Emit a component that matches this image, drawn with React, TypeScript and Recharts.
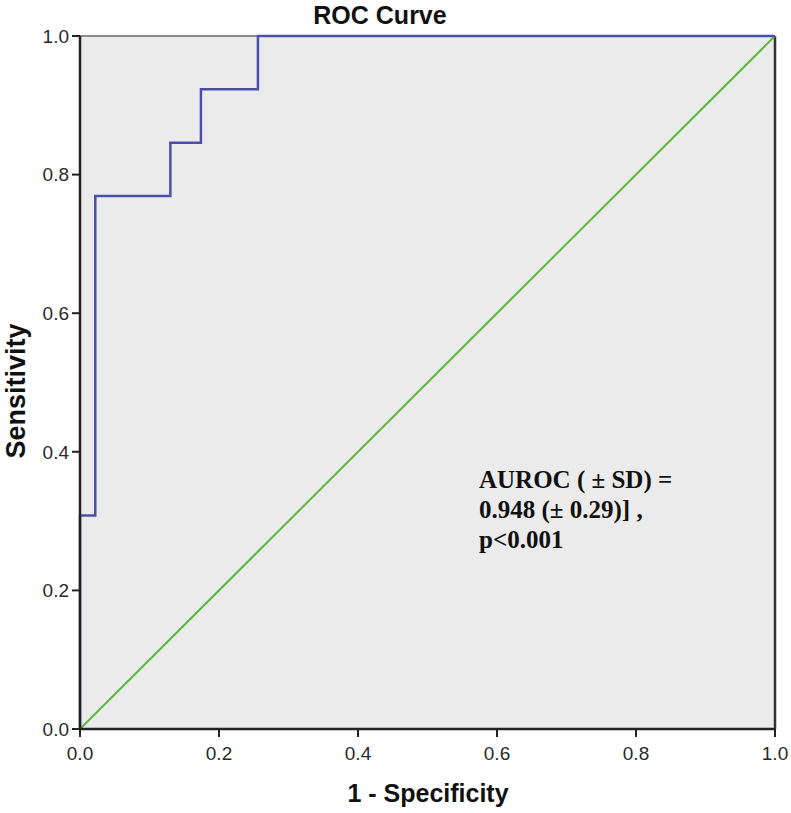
import React from 'react';
import {
  LineChart, Line, XAxis, YAxis, CartesianGrid, ReferenceLine, Customized,
} from 'recharts';

// ROC steps (1 - specificity, sensitivity)
const rocFpr = [0, 0, 0.022, 0.022, 0.13, 0.13, 0.174, 0.174, 0.256, 0.256, 1];
const rocTpr = [0, 0.308, 0.308, 0.769, 0.769, 0.846, 0.846, 0.923, 0.923, 1, 1];

// chance diagonal
const refFpr = [0, 1];
const refTpr = [0, 1];

const axisTicks = [0, 0.2, 0.4, 0.6, 0.8, 1];

const annotationLines = ['AUROC ( \u00b1 SD) =', '0.948 (\u00b1 0.29)] ,', 'p<0.001'];

const rocData = rocFpr.map((x, i) => ({ fpr: x, tpr: rocTpr[i] }));
const refData = refFpr.map((x, i) => ({ fpr: x, tpr: refTpr[i] }));

const SANS = '"Liberation Sans", Arial, sans-serif';
const SERIF = '"Liberation Serif", "Times New Roman", serif';
const AXIS_COLOR = '#222';
const TICK_STYLE = { fill: '#2a2a2a', fontSize: 19, fontFamily: SANS };

function Overlay() {
  return (
    <g>
      <text x={380} y={24} textAnchor="middle" fontFamily={SANS} fontSize={25} fontWeight={700} fill="#111">
        ROC Curve
      </text>
      <text x={428} y={802} textAnchor="middle" fontFamily={SANS} fontSize={25} fontWeight={700} fill="#111">
        1 - Specificity
      </text>
      <text
        x={25}
        y={391}
        textAnchor="middle"
        transform="rotate(-90, 25, 391)"
        fontFamily={SANS}
        fontSize={27}
        fontWeight={700}
        fill="#111"
      >
        Sensitivity
      </text>
      {annotationLines.map((t, i) => (
        <text key={t} x={479} y={488 + i * 30} fontFamily={SERIF} fontSize={25} fontWeight={700} fill="#111">
          {t}
        </text>
      ))}
    </g>
  );
}

export default function App() {
  return (
    <div style={{ position: 'absolute', left: 0, top: 0, background: '#fff' }}>
      <LineChart width={791} height={813} margin={{ top: 36, right: 16, bottom: 24, left: 20 }}>
        <CartesianGrid fill="#ebebeb" horizontal={false} vertical={false} />
        <XAxis
          type="number"
          dataKey="fpr"
          domain={[0, 1]}
          ticks={axisTicks}
          tickFormatter={(v: number) => v.toFixed(1)}
          height={60}
          tickSize={8}
          tickMargin={10}
          tick={TICK_STYLE}
          tickLine={{ stroke: AXIS_COLOR, strokeWidth: 2 }}
          axisLine={{ stroke: AXIS_COLOR, strokeWidth: 2.5 }}
          allowDuplicatedCategory={false}
        />
        <YAxis
          type="number"
          dataKey="tpr"
          domain={[0, 1]}
          ticks={axisTicks}
          tickFormatter={(v: number) => v.toFixed(1)}
          width={60}
          tickSize={8}
          tickMargin={3}
          tick={TICK_STYLE}
          tickLine={{ stroke: AXIS_COLOR, strokeWidth: 2 }}
          axisLine={{ stroke: AXIS_COLOR, strokeWidth: 2.5 }}
        />
        <ReferenceLine y={1} stroke="#8a8a8a" strokeWidth={2} />
        <ReferenceLine x={1} stroke="#333" strokeWidth={2.5} />
        <Line
          data={refData}
          dataKey="tpr"
          type="linear"
          stroke="#5cb83e"
          strokeWidth={2}
          dot={false}
          activeDot={false}
          isAnimationActive={false}
        />
        <Line
          data={rocData}
          dataKey="tpr"
          type="linear"
          stroke="#4a50a8"
          strokeWidth={2.5}
          dot={false}
          activeDot={false}
          isAnimationActive={false}
        />
        <Customized component={Overlay} />
      </LineChart>
    </div>
  );
}
